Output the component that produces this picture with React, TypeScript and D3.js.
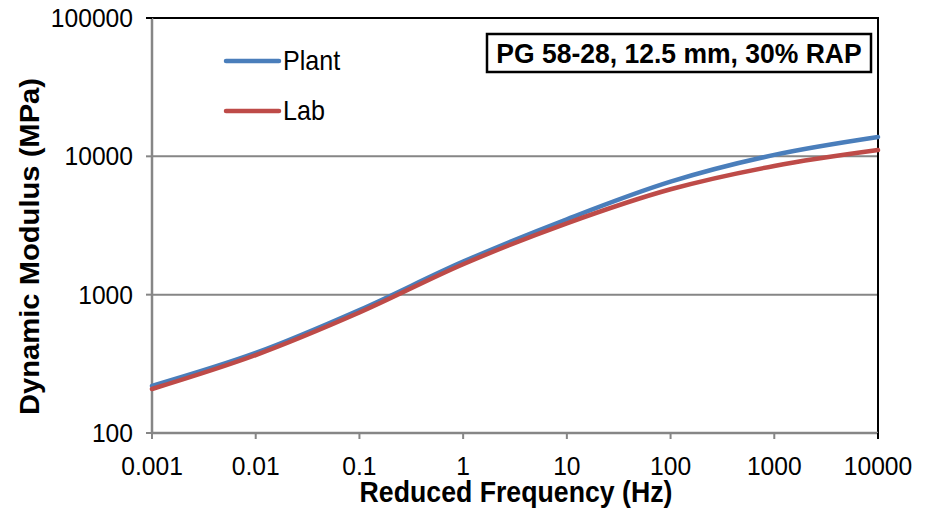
import React, { useRef, useEffect } from "react";
import * as d3 from "d3";

// values (MPa) at each decade of reduced frequency
const freqs = [0.001, 0.01, 0.1, 1, 10, 100, 1000, 10000];
const plantModulus = [219, 379, 774, 1733, 3510, 6560, 10240, 13800];
const labModulus = [208, 366, 743, 1660, 3280, 5780, 8520, 11100];
const xTicks = [0.001, 0.01, 0.1, 1, 10, 100, 1000, 10000];
const yTicks = [100, 1000, 10000, 100000];
const seriesNames = ["Plant", "Lab"];
const seriesColors = ["#4a7ebb", "#be4b48"];

const App = () => {
  const svgRef = useRef<SVGSVGElement>(null);

  useEffect(() => {
    const W = 930,
      H = 510;
    const margin = { top: 18, right: 52, bottom: 77, left: 152 };
    const font = "'Liberation Sans', Arial, sans-serif";
    const sx = 0.93; // text in the reference is a bit narrow

    d3.select(svgRef.current).selectAll("*").remove();
    const svg = d3
      .select(svgRef.current)
      .attr("width", W)
      .attr("height", H)
      .style("font-family", font);

    const x = d3
      .scaleLog()
      .domain([0.001, 10000])
      .range([margin.left, W - margin.right]);
    const y = d3
      .scaleLog()
      .domain([100, 100000])
      .range([H - margin.bottom, margin.top]);

    const x0 = x.range()[0],
      x1 = x.range()[1],
      y0 = y.range()[0],
      y1 = y.range()[1];

    // gridlines
    svg
      .append("g")
      .selectAll("line")
      .data([1000, 10000])
      .enter()
      .append("line")
      .attr("x1", x0)
      .attr("x2", x1)
      .attr("y1", (d) => y(d))
      .attr("y2", (d) => y(d))
      .attr("stroke", "#868686")
      .attr("stroke-width", 2);

    // plot border top / right
    svg
      .append("path")
      .attr("d", `M${x0},${y1}H${x1}V${y0}`)
      .attr("fill", "none")
      .attr("stroke", "#000")
      .attr("stroke-width", 2);

    // y axis
    const yAxis = svg.append("g");
    yAxis
      .append("line")
      .attr("x1", x0)
      .attr("x2", x0)
      .attr("y1", y1)
      .attr("y2", y0)
      .attr("stroke", "#868686")
      .attr("stroke-width", 2.5);
    yAxis
      .selectAll(".tick")
      .data(yTicks)
      .enter()
      .append("line")
      .attr("x1", x0 - 6)
      .attr("x2", x0)
      .attr("y1", (d) => y(d))
      .attr("y2", (d) => y(d))
      .attr("stroke", (d) => (d === 100000 ? "#000" : "#868686"))
      .attr("stroke-width", 2);
    yAxis
      .selectAll(".lbl")
      .data(yTicks)
      .enter()
      .append("text")
      .attr("transform", (d) => `translate(${x0 - 19},${y(d) + 9}) scale(${sx},1)`)
      .attr("text-anchor", "end")
      .attr("font-size", 26.5)
      .text((d) => String(d));

    // x axis
    const xAxis = svg.append("g");
    xAxis
      .append("line")
      .attr("x1", x0)
      .attr("x2", x1)
      .attr("y1", y0)
      .attr("y2", y0)
      .attr("stroke", "#868686")
      .attr("stroke-width", 2.5);
    xAxis
      .selectAll(".tick")
      .data(xTicks)
      .enter()
      .append("line")
      .attr("x1", (d) => x(d))
      .attr("x2", (d) => x(d))
      .attr("y1", y0)
      .attr("y2", y0 + 6)
      .attr("stroke", (d) => (d === 10000 ? "#000" : "#868686"))
      .attr("stroke-width", 2);
    xAxis
      .selectAll(".lbl")
      .data(xTicks)
      .enter()
      .append("text")
      .attr("transform", (d) => `translate(${x(d)},${y0 + 42}) scale(${sx},1)`)
      .attr("text-anchor", "middle")
      .attr("font-size", 26.5)
      .text((d) => String(d));

    // axis titles
    svg
      .append("text")
      .attr("transform", `translate(${(x0 + x1) / 2 + 1},${H - 8}) scale(${sx},1)`)
      .attr("text-anchor", "middle")
      .attr("font-size", 28.7)
      .attr("font-weight", "bold")
      .text("Reduced Frequency (Hz)");
    svg
      .append("text")
      .attr("transform", `translate(39,${(y0 + y1) / 2 + 21}) rotate(-90)`)
      .attr("text-anchor", "middle")
      .attr("font-size", 28.5)
      .attr("font-weight", "bold")
      .attr("textLength", 337)
      .attr("lengthAdjust", "spacingAndGlyphs")
      .text("Dynamic Modulus (MPa)");

    // curves
    const line = d3
      .line<number>()
      .x((_, i) => x(freqs[i]))
      .y((d) => y(d))
      .curve(d3.curveCatmullRom.alpha(0.5));

    [plantModulus, labModulus].forEach((vals, k) => {
      svg
        .append("path")
        .datum(vals)
        .attr("d", line)
        .attr("fill", "none")
        .attr("stroke", seriesColors[k])
        .attr("stroke-width", 4.5)
        .attr("stroke-linecap", "round");
    });

    // legend
    const legend = svg.append("g");
    seriesNames.forEach((name, k) => {
      const ly = 61 + k * 50;
      legend
        .append("line")
        .attr("x1", 226)
        .attr("x2", 279)
        .attr("y1", ly)
        .attr("y2", ly)
        .attr("stroke", seriesColors[k])
        .attr("stroke-width", 4.5)
        .attr("stroke-linecap", "round");
      legend
        .append("text")
        .attr("transform", `translate(283,${ly + 9}) scale(${sx},1)`)
        .attr("font-size", 27)
        .text(name);
    });

    // annotation box
    svg
      .append("rect")
      .attr("x", 487)
      .attr("y", 34)
      .attr("width", 384)
      .attr("height", 38)
      .attr("fill", "#fff")
      .attr("stroke", "#000")
      .attr("stroke-width", 2.5);
    svg
      .append("text")
      .attr("transform", `translate(679,63) scale(${sx},1)`)
      .attr("text-anchor", "middle")
      .attr("font-size", 28.5)
      .attr("font-weight", "bold")
      .text("PG 58-28, 12.5 mm, 30% RAP");
  }, []);

  return (
    <div style={{ position: "absolute", left: 0, top: 0 }}>
      <svg ref={svgRef}></svg>
    </div>
  );
};

export default App;
